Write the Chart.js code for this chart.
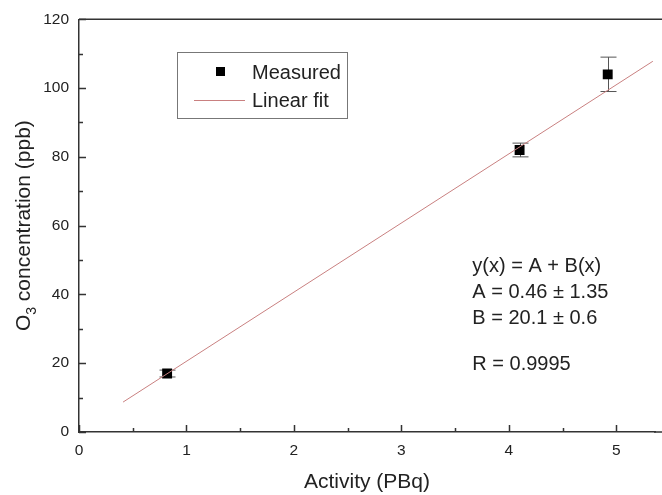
<!DOCTYPE html>
<html>
<head>
<meta charset="utf-8">
<script src="https://cdn.jsdelivr.net/npm/chart.js@4"></script>
<style>
  html, body { margin: 0; padding: 0; background: #fff; }
  #wrap { width: 662px; height: 495px; }
</style>
</head>
<body>
<div id="wrap"><canvas id="myChart" width="662" height="495"></canvas></div>
<script>
// measured points
const activity = [0.82, 4.1, 4.92];
const ozone = [17, 82, 104];
const ozoneErr = [1, 2, 5];

// linear fit line ends
const fitX = [0.41, 5.34];
const fitY = [8.7, 107.8];

const xTicks = [0, 1, 2, 3, 4, 5];
const yTicks = [0, 20, 40, 60, 80, 100, 120];

const fitText = ['y(x) = A + B(x)', 'A = 0.46 \u00b1 1.35', 'B = 20.1 \u00b1 0.6', 'R = 0.9995'];
const fitTextY = [46.5, 39, 31.5, 18];   // baselines, in ppb units

const FONT = '"Liberation Sans", Arial, sans-serif';
const AXIS = '#333';

// error bars, inward ticks, frame, legend and text
const extras = {
    id: 'extras',
    beforeDatasetsDraw(chart) {
        const ctx = chart.ctx;
        const x = chart.scales.x, y = chart.scales.y;
        ctx.save();
        ctx.strokeStyle = '#555';
        ctx.lineWidth = 1;
        for (let i = 0; i < activity.length; i++) {
            const px = Math.round(x.getPixelForValue(activity[i])) + 0.5;
            const top = y.getPixelForValue(ozone[i] + ozoneErr[i]);
            const bot = y.getPixelForValue(ozone[i] - ozoneErr[i]);
            ctx.beginPath();
            ctx.moveTo(px, top); ctx.lineTo(px, bot);
            ctx.moveTo(px - 8, top); ctx.lineTo(px + 8, top);
            ctx.moveTo(px - 8, bot); ctx.lineTo(px + 8, bot);
            ctx.stroke();
        }
        ctx.restore();
    },
    afterDraw(chart) {
        const ctx = chart.ctx;
        const a = chart.chartArea;
        const x = chart.scales.x, y = chart.scales.y;
        ctx.save();
        ctx.strokeStyle = AXIS;
        ctx.lineWidth = 1.5;
        // top border, and bottom axis running off the right edge
        ctx.beginPath();
        ctx.moveTo(a.left, a.top); ctx.lineTo(662, a.top);
        ctx.moveTo(a.right - 1, a.bottom); ctx.lineTo(662, a.bottom);
        ctx.stroke();
        // x ticks, major + minor, pointing up
        ctx.beginPath();
        for (let v = 0; v <= x.max + 1e-9; v += 0.5) {
            const px = Math.round(x.getPixelForValue(v)) + 0.5;
            const len = Math.abs(v - Math.round(v)) < 1e-6 ? 7 : 4;
            ctx.moveTo(px, a.bottom); ctx.lineTo(px, a.bottom - len);
        }
        // y ticks, pointing right
        for (let v = 0; v <= y.max; v += 10) {
            const py = Math.round(y.getPixelForValue(v)) + 0.5;
            const len = v % 20 === 0 ? 7 : 4;
            ctx.moveTo(a.left, py); ctx.lineTo(a.left + len, py);
        }
        ctx.stroke();

        // y title with subscript
        ctx.fillStyle = '#222';
        ctx.translate(24, (a.top + a.bottom) / 2);
        ctx.rotate(-Math.PI / 2);
        ctx.textBaseline = 'middle';
        ctx.textAlign = 'left';
        const p1 = 'O', p3 = ' concentration (ppb)';
        ctx.font = '21px ' + FONT;
        const w1 = ctx.measureText(p1).width;
        const w3 = ctx.measureText(p3).width;
        ctx.font = '14px ' + FONT;
        const w2 = ctx.measureText('3').width;
        const sx = -(w1 + w2 + w3) / 2;
        ctx.font = '21px ' + FONT;
        ctx.fillText(p1, sx, 0);
        ctx.font = '14px ' + FONT;
        ctx.fillText('3', sx + w1, 8);
        ctx.font = '21px ' + FONT;
        ctx.fillText(p3, sx + w1 + w2, 0);
        ctx.setTransform(1, 0, 0, 1, 0, 0);

        // legend box
        ctx.strokeStyle = '#777';
        ctx.lineWidth = 1;
        ctx.strokeRect(177.5, 52.5, 170, 66);
        ctx.fillStyle = '#000';
        ctx.fillRect(216, 67, 9, 9);
        ctx.strokeStyle = '#c98080';
        ctx.beginPath();
        ctx.moveTo(194, 100.5); ctx.lineTo(245, 100.5);
        ctx.stroke();
        ctx.fillStyle = '#222';
        ctx.font = '20px ' + FONT;
        ctx.textAlign = 'left';
        ctx.textBaseline = 'alphabetic';
        ctx.fillText('Measured', 252, 79);
        ctx.fillText('Linear fit', 252, 107);

        // fit results
        ctx.font = '20px ' + FONT;
        const tx = x.getPixelForValue(3.66);
        fitText.forEach((t, i) => {
            ctx.fillText(t, tx, y.getPixelForValue(fitTextY[i]));
        });
        ctx.restore();
    }
};

const ctx = document.getElementById('myChart').getContext('2d');
const myChart = new Chart(ctx, {
    type: 'scatter',
    data: {
        datasets: [
            {
                label: 'Linear fit',
                type: 'line',
                data: fitX.map((v, i) => ({ x: v, y: fitY[i] })),
                borderColor: '#c98080',
                borderWidth: 1,
                pointRadius: 0,
                fill: false
            },
            {
                label: 'Measured',
                data: activity.map((v, i) => ({ x: v, y: ozone[i] })),
                pointStyle: 'rect',
                pointRadius: 7,
                backgroundColor: '#000',
                borderColor: '#000',
                borderWidth: 0
            }
        ]
    },
    options: {
        responsive: false,
        animation: false,
        layout: { padding: { top: 15, right: 0, left: 0, bottom: 0 } },
        plugins: {
            legend: { display: false },
            tooltip: { enabled: false }
        },
        scales: {
            x: {
                type: 'linear',
                min: 0,
                max: 5.36,
                afterBuildTicks: s => { s.ticks = xTicks.map(v => ({ value: v })); },
                afterFit: s => { s.height = 63; },
                grid: { display: false, drawTicks: false },
                border: { display: true, color: AXIS, width: 1.5 },
                ticks: { color: '#222', font: { family: FONT, size: 15.5 }, padding: 9, maxRotation: 0 },
                title: {
                    display: true,
                    text: 'Activity (PBq)',
                    color: '#222',
                    font: { family: FONT, size: 21 },
                    padding: { top: 0, bottom: 0 }
                }
            },
            y: {
                type: 'linear',
                min: 0,
                max: 120,
                afterBuildTicks: s => { s.ticks = yTicks.map(v => ({ value: v })); },
                afterFit: s => { s.width = 79; },
                grid: { display: false, drawTicks: false },
                border: { display: true, color: AXIS, width: 1.5 },
                ticks: { color: '#222', font: { family: FONT, size: 15.5 }, padding: 10 }
            }
        }
    },
    plugins: [extras]
});
</script>
</body>
</html>
